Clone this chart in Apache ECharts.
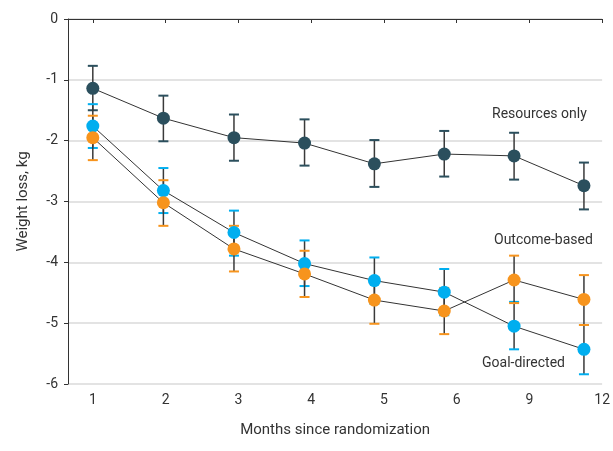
<!DOCTYPE html>
<html><head><meta charset="utf-8">
<script src="https://cdn.jsdelivr.net/npm/echarts@6/dist/echarts.min.js"></script>
<style>html,body{margin:0;padding:0;background:#fff}#c{width:613px;height:451px}</style>
</head><body><div id="c"></div>
<script>
// x positions (axis index units: 1..6 -> months 1..6, 7 -> 9, 8 -> 12)
const tickLabels = ['1','2','3','4','5','6','9','12'];
const xPos = [1.0, 1.97, 2.94, 3.91, 4.87, 5.83, 6.79, 7.75];

const resMean = [-1.14, -1.63, -1.95, -2.04, -2.38, -2.22, -2.25, -2.74];
const resLow  = [-1.50, -2.01, -2.33, -2.41, -2.76, -2.59, -2.64, -3.13];
const resHigh = [-0.77, -1.26, -1.57, -1.65, -1.99, -1.84, -1.87, -2.36];

const goalMean = [-1.76, -2.82, -3.51, -4.02, -4.30, -4.49, -5.05, -5.43];
const goalLow  = [-2.12, -3.19, -3.89, -4.39, -4.68, -4.87, -5.43, -5.84];
const goalHigh = [-1.40, -2.45, -3.15, -3.64, -3.92, -4.11, -4.65, -5.03];

const outMean = [-1.95, -3.02, -3.78, -4.19, -4.62, -4.80, -4.29, -4.61];
const outLow  = [-2.32, -3.40, -4.15, -4.57, -5.01, -5.18, -4.67, -5.03];
const outHigh = [-1.59, -2.65, -3.40, -3.81, -4.24, -4.42, -3.89, -4.21];

const colRes = '#2b4f5d', colGoal = '#00aeef', colOut = '#f7941d';
const FONT = 'Roboto, "Noto Sans", sans-serif';

function errSeries(name, low, high, color, z) {
  return {
    type: 'custom', name: name + ' err', z: z,
    data: xPos.map((x, i) => [x, low[i], high[i]]),
    renderItem: function (params, api) {
      const x = api.value(0);
      const lo = api.coord([x, api.value(1)]);
      const hi = api.coord([x, api.value(2)]);
      const hw = 5;
      return { type: 'group', children: [
        { type: 'line', shape: { x1: lo[0], y1: lo[1], x2: hi[0], y2: hi[1] }, style: { stroke: '#3a3a3a', lineWidth: 1.5 } },
        { type: 'line', shape: { x1: lo[0]-hw, y1: lo[1], x2: lo[0]+hw, y2: lo[1] }, style: { stroke: color, lineWidth: 2 } },
        { type: 'line', shape: { x1: hi[0]-hw, y1: hi[1], x2: hi[0]+hw, y2: hi[1] }, style: { stroke: color, lineWidth: 2 } }
      ]};
    }
  };
}
function lineSeries(name, mean, color, z) {
  return {
    type: 'line', name: name, z: z,
    data: xPos.map((x, i) => [x, mean[i]]),
    symbol: 'circle', symbolSize: 13,
    itemStyle: { color: color, borderWidth: 0 },
    lineStyle: { color: '#333', width: 1 },
    emphasis: { disabled: true }, animation: false
  };
}

const chart = echarts.init(document.getElementById('c'), null, { renderer: 'canvas' });
chart.setOption({
  animation: false,
  grid: { left: 68, right: 7, top: 19, bottom: 67, containLabel: false },
  xAxis: {
    type: 'value', min: 0.659, max: 8,
    name: 'Months since randomization', nameLocation: 'middle', nameGap: 39,
    nameTextStyle: { color: '#333', fontSize: 15, fontFamily: FONT },
    axisLine: { lineStyle: { color: '#333', width: 1 } },
    axisTick: { show: true, length: 4, lineStyle: { color: '#333' }, customValues: [1,2,3,4,5,6,7,8] },
    axisLabel: { color: '#333', fontSize: 14, fontFamily: FONT, margin: 9,
      customValues: [1,2,3,4,5,6,7,8],
      formatter: v => tickLabels[Math.round(v) - 1] },
    splitLine: { show: false }
  },
  yAxis: {
    type: 'value', min: -6, max: 0, interval: 1,
    name: 'Weight loss, kg', nameLocation: 'middle', nameGap: 37, nameRotate: 90,
    nameTextStyle: { color: '#333', fontSize: 15, fontFamily: FONT },
    axisLine: { show: true, lineStyle: { color: '#333', width: 1 } },
    axisTick: { show: true, length: 4, lineStyle: { color: '#333' } },
    axisLabel: { color: '#333', fontSize: 14, fontFamily: FONT, margin: 10 },
    splitLine: { show: true, lineStyle: { color: '#e3e3e3', width: 2 } }
  },
  graphic: [
    { type: 'text', left: 492, top: 107, style: { text: 'Resources only', fill: '#333', font: '14px ' + FONT } },
    { type: 'text', left: 494, top: 233, style: { text: 'Outcome-based', fill: '#333', font: '14px ' + FONT } },
    { type: 'text', left: 482, top: 356, style: { text: 'Goal-directed', fill: '#333', font: '14px ' + FONT } }
  ],
  series: [
    errSeries('Resources only', resLow, resHigh, colRes, 2),
    errSeries('Goal-directed', goalLow, goalHigh, colGoal, 2),
    errSeries('Outcome-based', outLow, outHigh, colOut, 2),
    lineSeries('Resources only', resMean, colRes, 3),
    lineSeries('Goal-directed', goalMean, colGoal, 3),
    lineSeries('Outcome-based', outMean, colOut, 3)
  ]
});
</script></body></html>
